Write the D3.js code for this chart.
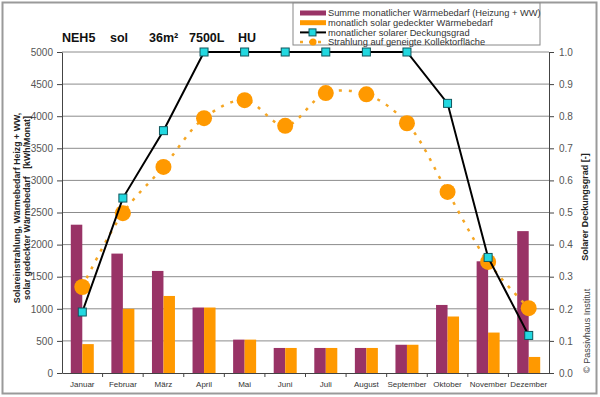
<!DOCTYPE html>
<html>
<head>
<meta charset="utf-8">
<script src="https://cdn.jsdelivr.net/npm/d3@7"></script>
<style>
  body { margin: 0; background: #fff; }
  svg { font-family: Arial, "Liberation Sans", sans-serif; }
</style>
</head>
<body>
<svg width="600" height="397"></svg>
<script>
const months = ["Januar", "Februar", "März", "April", "Mai", "Juni", "Juli", "August", "September", "Oktober", "November", "Dezember"];
const bedarf = [2310, 1860, 1590, 1020, 520, 390, 390, 390, 440, 1060, 1740, 2210];
const gedeckt = [450, 1000, 1200, 1020, 520, 390, 390, 390, 440, 880, 630, 250];
const deckung = [0.19, 0.545, 0.755, 1.0, 1.0, 1.0, 1.0, 1.0, 1.0, 0.84, 0.36, 0.117];
const strahlung = [1340, 2490, 3210, 3970, 4250, 3850, 4360, 4340, 3890, 2820, 1730, 1010];
const leftTicks = d3.range(0, 5001, 500);
const rightTicks = d3.range(0, 1.01, 0.1);
const titleParts = ["NEH5", "sol", "36m²", "7500L", "HU"];
const legendLabels = [
  "Summe monatlicher Wärmebedarf (Heizung + WW)",
  "monatlich solar gedeckter Wärmebedarf",
  "monatlicher solarer Deckungsgrad",
  "Strahlung auf geneigte Kollektorfläche"
];

let svg = d3.select("svg"),
  margin = { top: 52, right: 51, bottom: 24, left: 62 },
  width = +svg.attr("width") - margin.left - margin.right,
  height = +svg.attr("height") - margin.top - margin.bottom;

// outer frame
svg.append("rect")
  .attr("x", 2.5).attr("y", 2.5)
  .attr("width", 594).attr("height", 391)
  .attr("fill", "none").attr("stroke", "#9a9a9a").attr("stroke-width", 2);

let g = svg.append("g").attr("transform", "translate(" + margin.left + "," + margin.top + ")");

let x = d3.scaleBand().domain(months).range([0, width]),
  xs = d3.scaleBand().domain(["a", "b"]).range([0, 23]),
  y = d3.scaleLinear().domain([0, 5000]).range([height, 0]),
  y2 = d3.scaleLinear().domain([0, 1]).range([height, 0]);

// gridlines
g.append("g")
  .selectAll("line")
  .data(leftTicks.filter(d => d > 0))
  .enter().append("line")
  .attr("x1", 0).attr("x2", width)
  .attr("y1", d => y(d)).attr("y2", d => y(d))
  .attr("stroke", "#8c8c8c").attr("stroke-width", 1);

// bars
let bar = g.selectAll(".month")
  .data(months)
  .enter().append("g")
  .attr("class", "month")
  .attr("transform", d => "translate(" + (x(d) + x.bandwidth() / 2 - 11.5) + ",0)");

bar.append("rect")
  .attr("x", xs("a"))
  .attr("width", xs.bandwidth())
  .attr("y", (d, i) => y(bedarf[i]))
  .attr("height", (d, i) => height - y(bedarf[i]))
  .attr("fill", "#993366");

bar.append("rect")
  .attr("x", xs("b"))
  .attr("width", xs.bandwidth())
  .attr("y", (d, i) => y(gedeckt[i]))
  .attr("height", (d, i) => height - y(gedeckt[i]))
  .attr("fill", "#ff9900");

// left axis
let axL = g.append("g")
  .call(d3.axisLeft(y).tickValues(leftTicks).tickFormat(d3.format("d")).tickSize(5).tickSizeOuter(0).tickPadding(4));
axL.select(".domain").attr("stroke", "#444");
axL.selectAll(".tick line").attr("stroke", "#444");
axL.selectAll("text").attr("fill", "#555").style("font-size", "10px");

// right axis
let axR = g.append("g")
  .attr("transform", "translate(" + width + ",0)")
  .call(d3.axisRight(y2).tickValues(rightTicks).tickFormat(d3.format(".1f")).tickSize(5).tickSizeOuter(0).tickPadding(5));
axR.select(".domain").attr("stroke", "#444");
axR.selectAll(".tick line").attr("stroke", "#444");
axR.selectAll("text").attr("fill", "#555").style("font-size", "10px");

// x axis
let axX = g.append("g")
  .attr("transform", "translate(0," + height + ")")
  .call(d3.axisBottom(x).tickSize(0).tickPadding(8));
axX.select(".domain").attr("stroke", "#444");
axX.selectAll("text").attr("fill", "#333").style("font-size", "8px");
axX.selectAll(".sep")
  .data(months.slice(1))
  .enter().append("line")
  .attr("x1", d => x(d)).attr("x2", d => x(d))
  .attr("y1", 0).attr("y2", 4)
  .attr("stroke", "#444");

// radiation line (dotted, smooth)
let lineS = d3.line()
  .curve(d3.curveCatmullRom)
  .x((d, i) => x(months[i]) + x.bandwidth() / 2)
  .y(d => y(d));

g.append("path")
  .datum(strahlung)
  .attr("d", lineS)
  .attr("fill", "none")
  .attr("stroke", "#f5a623")
  .attr("stroke-width", 2.5)
  .attr("stroke-dasharray", "3,7");

g.selectAll(".dot")
  .data(strahlung)
  .enter().append("circle")
  .attr("class", "dot")
  .attr("cx", (d, i) => x(months[i]) + x.bandwidth() / 2)
  .attr("cy", d => y(d))
  .attr("r", 8)
  .attr("fill", "#ff9900");

// Deckungsgrad line
let lineD = d3.line()
  .x((d, i) => x(months[i]) + x.bandwidth() / 2)
  .y(d => y2(d));

g.append("path")
  .datum(deckung)
  .attr("d", lineD)
  .attr("fill", "none")
  .attr("stroke", "#000")
  .attr("stroke-width", 2);

g.selectAll(".sq")
  .data(deckung)
  .enter().append("rect")
  .attr("class", "sq")
  .attr("x", (d, i) => x(months[i]) + x.bandwidth() / 2 - 4)
  .attr("y", d => y2(d) - 4)
  .attr("width", 8).attr("height", 8)
  .attr("fill", "#22d8e0")
  .attr("stroke", "#11575e")
  .attr("stroke-width", 1);

// title parts
let titleX = [62, 110, 149, 189, 238];
svg.selectAll(".title")
  .data(titleParts)
  .enter().append("text")
  .attr("x", (d, i) => titleX[i])
  .attr("y", 42)
  .style("font-size", "12.5px")
  .style("font-weight", "bold")
  .attr("fill", "#111")
  .text(d => d);

// axis titles
svg.append("text")
  .attr("transform", "translate(20,208) rotate(-90)")
  .attr("text-anchor", "middle")
  .style("font-size", "8.8px")
  .style("font-weight", "bold")
  .attr("fill", "#222")
  .text("Solareinstrahlung, Wärmebedarf Heizg + WW,");
svg.append("text")
  .attr("transform", "translate(30,208) rotate(-90)")
  .attr("text-anchor", "middle")
  .style("font-size", "8.8px")
  .style("font-weight", "bold")
  .attr("fill", "#222")
  .style("white-space", "pre")
  .text("solar gedeckter Wärmebedarf   [kWh/Monat]");

svg.append("text")
  .attr("transform", "translate(588,207) rotate(-90)")
  .attr("text-anchor", "middle")
  .style("font-size", "9px")
  .style("font-weight", "bold")
  .attr("fill", "#222")
  .text("Solarer Deckungsgrad [-]");

svg.append("text")
  .attr("transform", "translate(590,373) rotate(-90)")
  .attr("text-anchor", "start")
  .style("font-size", "9px")
  .attr("fill", "#444")
  .text("© Passivhaus Institut");

// legend
let leg = svg.append("g").attr("transform", "translate(293,3)");
leg.append("rect")
  .attr("width", 247).attr("height", 42)
  .attr("fill", "#fff").attr("stroke", "#888");

let item = leg.selectAll(".item")
  .data(legendLabels)
  .enter().append("g")
  .attr("transform", (d, i) => "translate(0," + (10 + i * 9.7) + ")");

item.append("text")
  .attr("x", 35)
  .attr("dy", "0.35em")
  .style("font-size", "9.3px")
  .attr("fill", "#333")
  .text(d => d);

item.filter((d, i) => i === 0).append("rect")
  .attr("x", 7).attr("y", -2.5).attr("width", 26).attr("height", 5).attr("fill", "#993366");
item.filter((d, i) => i === 1).append("rect")
  .attr("x", 7).attr("y", -2.5).attr("width", 26).attr("height", 5).attr("fill", "#ff9900");
let l3 = item.filter((d, i) => i === 2);
l3.append("line").attr("x1", 7).attr("x2", 33).attr("stroke", "#000").attr("stroke-width", 2);
l3.append("rect").attr("x", 16).attr("y", -3.5).attr("width", 7).attr("height", 7)
  .attr("fill", "#22d8e0").attr("stroke", "#11575e");
let l4 = item.filter((d, i) => i === 3);
l4.append("line").attr("x1", 7).attr("x2", 33).attr("stroke", "#f5a623").attr("stroke-width", 2.5)
  .attr("stroke-dasharray", "3,6");
l4.append("circle").attr("cx", 20).attr("r", 3.5).attr("fill", "#ff9900");
</script>
</body>
</html>
